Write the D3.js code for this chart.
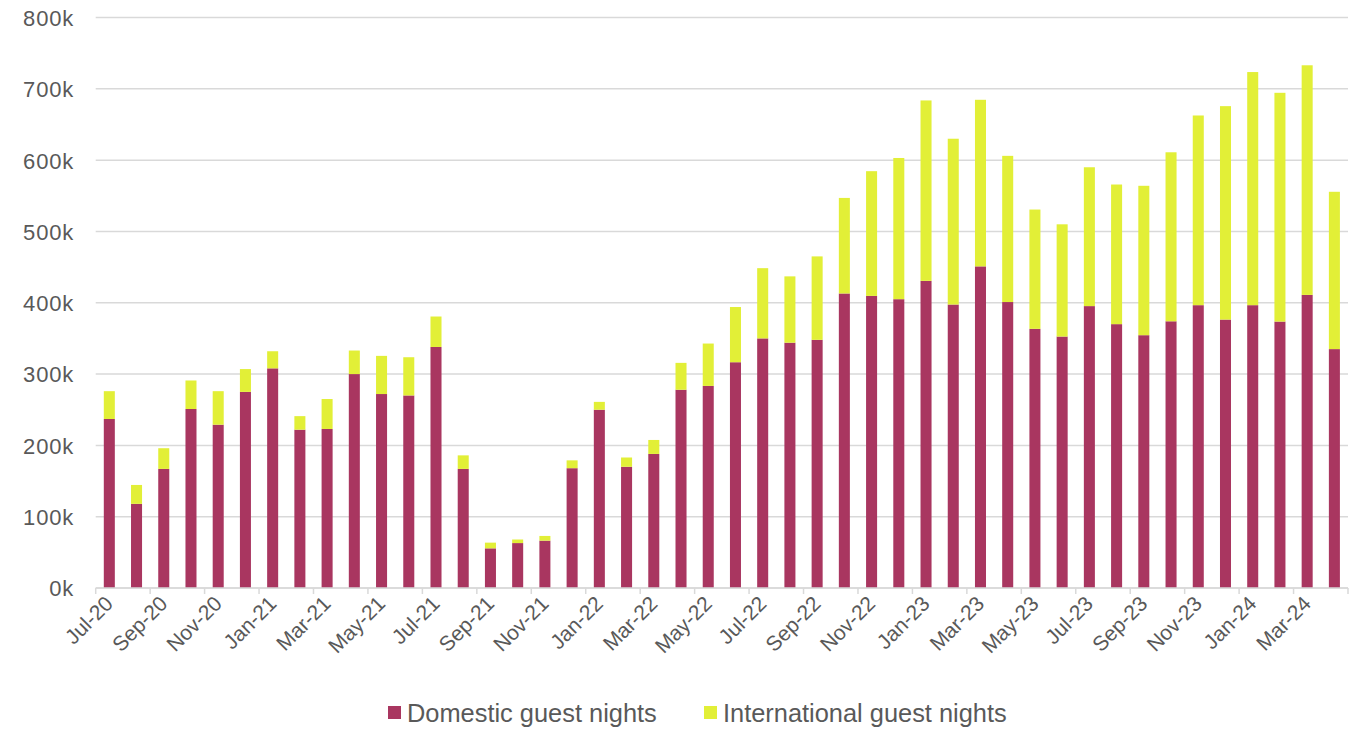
<!DOCTYPE html>
<html>
<head>
<meta charset="utf-8">
<script src="https://cdn.jsdelivr.net/npm/d3@7"></script>
<style>
  html, body { margin: 0; padding: 0; background: #ffffff; }
  svg { display: block; font-family: "Liberation Sans", Arial, sans-serif; }
</style>
</head>
<body>
<svg id="chart" width="1352" height="729"></svg>
<script>
// Monthly guest nights, Jul-20 to Apr-24
const months = [
  "Jul-20","Aug-20","Sep-20","Oct-20","Nov-20","Dec-20",
  "Jan-21","Feb-21","Mar-21","Apr-21","May-21","Jun-21","Jul-21","Aug-21","Sep-21","Oct-21","Nov-21","Dec-21",
  "Jan-22","Feb-22","Mar-22","Apr-22","May-22","Jun-22","Jul-22","Aug-22","Sep-22","Oct-22","Nov-22","Dec-22",
  "Jan-23","Feb-23","Mar-23","Apr-23","May-23","Jun-23","Jul-23","Aug-23","Sep-23","Oct-23","Nov-23","Dec-23",
  "Jan-24","Feb-24","Mar-24","Apr-24"
];

const domestic = [
  237000,118000,167000,251000,229000,275000,
  308000,222000,223000,300000,272000,270000,338000,167000,55600,63000,66400,168000,
  250000,170000,188000,278000,283400,316600,350000,344000,348000,413000,409600,405000,
  430700,397500,451000,401000,363400,352600,395300,370000,354500,374000,396600,376400,
  396600,373600,411000,335000
];

const international = [
  39000,26500,29000,40000,47000,32000,
  24000,19000,42000,33000,53500,53600,42700,19000,8000,5000,6600,11000,
  11000,13000,19600,37700,59400,77400,98500,93000,117000,134000,174900,198000,
  253000,232500,233600,205000,167300,157400,194700,195800,209500,237000,266000,299300,
  326900,320800,322000,220600
];

const yTicks = [0, 100000, 200000, 300000, 400000, 500000, 600000, 700000, 800000];

const seriesNames = ["Domestic guest nights", "International guest nights"];
const seriesColors = ["#A93660", "#E2EF37"];

const svg = d3.select("#chart");
const margin = { top: 17.5, left: 95.7, right: 4, bottom: 141 };
const width = 1352, height = 729;
const plotW = width - margin.left - margin.right;
const y0 = 588;

const x = d3.scaleBand()
  .domain(months)
  .range([margin.left, margin.left + plotW])
  .paddingInner(0.595)
  .paddingOuter(0.2975);

const y = d3.scaleLinear()
  .domain([0, 800000])
  .range([y0, margin.top]);

// horizontal gridlines
svg.append("g")
  .selectAll("line")
  .data(yTicks)
  .join("line")
  .attr("x1", margin.left)
  .attr("x2", margin.left + plotW)
  .attr("y1", d => y(d))
  .attr("y2", d => y(d))
  .attr("stroke", "#d9d9d9")
  .attr("stroke-width", 1.5);

// y-axis labels
const yAxis = d3.axisLeft(y)
  .tickValues(yTicks)
  .tickSize(0)
  .tickPadding(0)
  .tickFormat(d => (d / 1000) + "k");

svg.append("g")
  .attr("transform", "translate(74,0)")
  .call(yAxis)
  .call(g => g.select(".domain").remove())
  .call(g => g.selectAll("text")
    .attr("fill", "#595959")
    .attr("font-size", 22)
    .attr("letter-spacing", 0.8)
    .attr("dy", "0.36em")
    .style("font-family", "'Liberation Sans', Arial, sans-serif"));

// stacked bars
const rows = months.map((m, i) => ({ month: m, domestic: domestic[i], international: international[i] }));
const stack = d3.stack().keys(["domestic", "international"]);
const layers = stack(rows);

svg.append("g")
  .selectAll("g")
  .data(layers)
  .join("g")
  .attr("fill", (d, i) => seriesColors[i])
  .selectAll("rect")
  .data(d => d)
  .join("rect")
  .attr("x", d => x(d.data.month))
  .attr("width", x.bandwidth())
  .attr("y", d => y(d[1]))
  .attr("height", d => y(d[0]) - y(d[1]));

// x-axis line with tick marks every two months
const step = x.step();
const tickPositions = d3.range(0, months.length + 1, 2).map(i => margin.left + i * step);
const axisG = svg.append("g");
axisG.append("line")
  .attr("x1", margin.left).attr("x2", margin.left + plotW)
  .attr("y1", y0).attr("y2", y0)
  .attr("stroke", "#d9d9d9").attr("stroke-width", 1.5);
axisG.selectAll("line.tick")
  .data(tickPositions)
  .join("line")
  .attr("class", "tick")
  .attr("x1", d => d).attr("x2", d => d)
  .attr("y1", y0).attr("y2", y0 + 6)
  .attr("stroke", "#d9d9d9").attr("stroke-width", 1.5);

// rotated month labels
const labelMonths = months.filter((m, i) => i % 2 === 0);
svg.append("g")
  .selectAll("text")
  .data(labelMonths)
  .join("text")
  .attr("transform", d => `translate(${x(d) + x.bandwidth() / 2 + 5},${y0 + 17}) rotate(-45)`)
  .attr("text-anchor", "end")
  .attr("fill", "#595959")
  .attr("font-size", 21)
  .text(d => d);

// legend
const legend = svg.append("g");
const legendX = [388, 704];
seriesNames.forEach((name, i) => {
  legend.append("rect")
    .attr("x", legendX[i]).attr("y", 706)
    .attr("width", 13).attr("height", 13)
    .attr("fill", seriesColors[i]);
  legend.append("text")
    .attr("x", legendX[i] + 19).attr("y", 722)
    .attr("fill", "#595959")
    .attr("font-size", 25.4)
    .text(name);
});
</script>
</body>
</html>
